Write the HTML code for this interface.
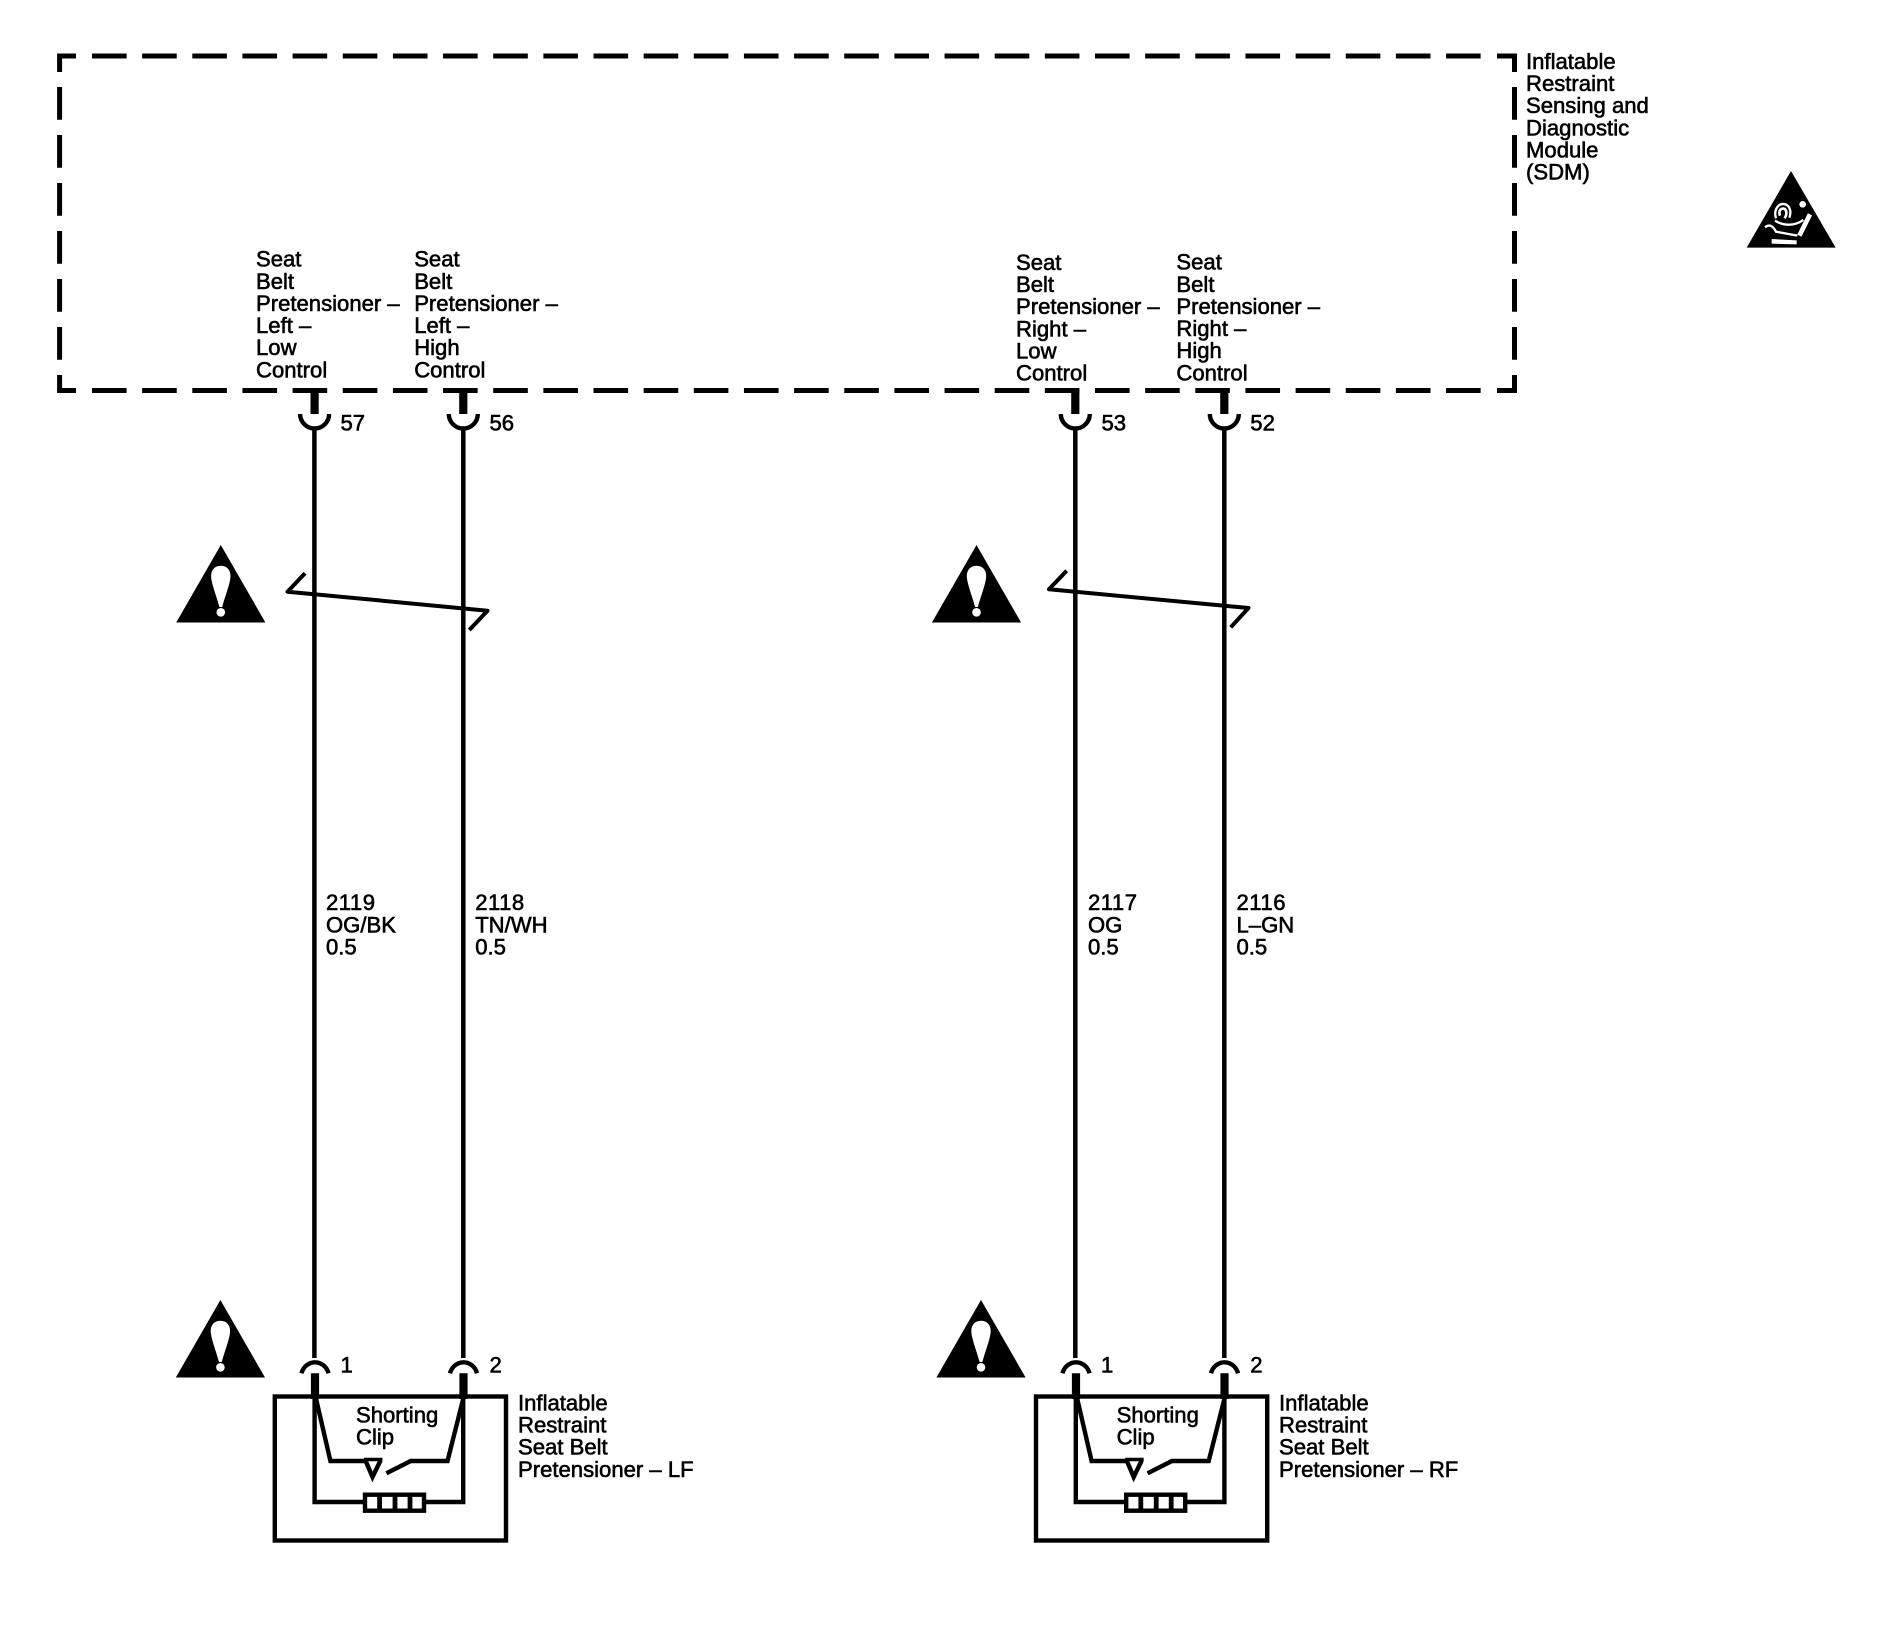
<!DOCTYPE html>
<html>
<head>
<meta charset="utf-8">
<title>Seat Belt Pretensioner Schematic</title>
<style>
html,body{margin:0;padding:0;background:#fff;}
svg{display:block;}
text{font-family:"Liberation Sans",Arial,sans-serif;font-size:22.1px;fill:#000;stroke:#000;stroke-width:.6px;}
text.n{letter-spacing:.5px;}
</style>
</head>
<body>
<svg xmlns="http://www.w3.org/2000/svg" width="1904" height="1632" viewBox="0 0 1904 1632">
<defs>
  <g id="warn">
    <path d="M0 0L44.6 77.5H-44.6Z" fill="#000"/>
    <path d="M0 20.7C6 20.7 9.7 25 9.7 31C9.7 38 4 52 1.4 62H-1.4C-4 52-9.7 38-9.7 31C-9.7 25-6 20.7 0 20.7Z" fill="#fff"/>
    <circle cx="0" cy="67.3" r="4.3" fill="#fff"/>
  </g>
  <g id="top" fill="none" stroke="#000">
    <path d="M0 390V414" stroke-width="8.2"/>
    <path d="M-14.5 414A14.5 14.5 0 0 0 14.5 414" stroke-width="4.4"/>
  </g>
  <g id="bot" fill="none" stroke="#000">
    <path d="M-13.5 1373.3A14 15 0 0 1 13.5 1373.3" stroke-width="4.4"/>
    <path d="M0 1373.3V1399" stroke-width="8.2"/>
  </g>
  <g id="comp" fill="none" stroke="#000" stroke-width="4.4">
    <rect x="274.8" y="1396.5" width="231.2" height="144"/>
    <path d="M314.6 1398V1502H365M424 1502H463.2V1398"/>
    <rect x="365" y="1494.7" width="59" height="16"/>
    <path d="M379.6 1494.7V1510.7M395 1494.7V1510.7M410 1494.7V1510.7" stroke-width="4.8"/>
    <path d="M315.7 1397.3L330.4 1461H366M386.4 1473.3L410.7 1461H447.5L463.6 1397.3"/>
    <path d="M365.5 1460.5L372.5 1477L380.5 1460.5"/>
    <path d="M364 1459.5H382.5" stroke-width="3.4"/>
  </g>
</defs>

<!-- SDM dashed box -->
<g fill="none" stroke="#000" stroke-width="5">
  <path d="M92 56H1481" stroke-dasharray="34.6 15.55"/>
  <path d="M92 390.5H1481" stroke-dasharray="34.6 15.55"/>
  <path d="M59.6 87V360" stroke-dasharray="32.7 15.3"/>
  <path d="M1514.5 87V360" stroke-dasharray="32.7 15.3"/>
  <path d="M76 56H59.6V72"/>
  <path d="M76 390.5H59.6V375"/>
  <path d="M1497 56H1514.5V72"/>
  <path d="M1497 390.5H1514.5V375"/>
</g>

<!-- Wires -->
<g stroke="#000" stroke-width="4.5" fill="none">
  <path d="M314.4 430V1358"/>
  <path d="M463.3 430V1358"/>
  <path d="M1075.3 430V1358"/>
  <path d="M1224.3 430V1358"/>
</g>

<!-- Top connectors -->
<use href="#top" transform="translate(314.6,0)"/>
<use href="#top" transform="translate(463.3,0)"/>
<use href="#top" transform="translate(1075.3,0)"/>
<use href="#top" transform="translate(1224.3,0)"/>

<!-- Bottom connectors -->
<use href="#bot" transform="translate(315,0)"/>
<use href="#bot" transform="translate(463.5,0)"/>
<use href="#bot" transform="translate(1076,0)"/>
<use href="#bot" transform="translate(1224.5,0)"/>

<!-- Components -->
<use href="#comp"/>
<use href="#comp" transform="translate(761.2,0)"/>

<!-- Twisted pair symbols -->
<g fill="none" stroke="#000" stroke-width="4" stroke-linejoin="round">
  <path d="M305 573.3L287.5 591.7L487.5 610.7L469.3 630"/>
  <path d="M1066.7 570.7L1049 589.3L1248.5 608L1230.7 627.3"/>
</g>

<!-- Warning triangles -->
<use href="#warn" transform="translate(220.8,545)"/>
<use href="#warn" transform="translate(976.5,545)"/>
<use href="#warn" transform="translate(220.4,1300)"/>
<use href="#warn" transform="translate(981,1300)"/>

<!-- SIR icon -->
<g transform="translate(1740,165) scale(.3333)">
  <path d="M153 18L287 248H20Z" fill="#000"/>
  <circle cx="188" cy="118" r="10" fill="#fff"/>
  <g fill="none" stroke="#fff" stroke-width="7">
    <path d="M108 160C100 135 115 115 132 117C150 120 155 140 148 158"/>
    <path d="M120 152C114 135 125 128 134 132C142 138 140 150 134 160" stroke-width="8"/>
    <path d="M105 167C125 180 160 187 190 165"/>
    <path d="M75 187C90 175 100 185 108 200L172 212"/>
    <path d="M210 148L178 212" stroke-width="14"/>
  </g>
  <path d="M95 222L170 226V238L95 236Z" fill="#fff"/>
</g>

<!-- SDM label -->
<text x="1526" y="69">Inflatable</text>
<text x="1526" y="91.2">Restraint</text>
<text x="1526" y="113.2">Sensing and</text>
<text x="1526" y="135.3">Diagnostic</text>
<text x="1526" y="157.3">Module</text>
<text x="1526" y="179.5">(SDM)</text>

<!-- Pin function labels -->
<text x="256" y="266.7">Seat</text>
<text x="256" y="288.8">Belt</text>
<text x="256" y="311">Pretensioner –</text>
<text x="256" y="333.2">Left –</text>
<text x="256" y="355.2">Low</text>
<text x="256" y="377.4">Control</text>

<text x="414.2" y="266.7">Seat</text>
<text x="414.2" y="288.8">Belt</text>
<text x="414.2" y="311">Pretensioner –</text>
<text x="414.2" y="333.2">Left –</text>
<text x="414.2" y="355.2">High</text>
<text x="414.2" y="377.4">Control</text>

<text x="1016" y="270">Seat</text>
<text x="1016" y="292">Belt</text>
<text x="1016" y="314.2">Pretensioner –</text>
<text x="1016" y="336.4">Right –</text>
<text x="1016" y="358.4">Low</text>
<text x="1016" y="380.6">Control</text>

<text x="1176.4" y="269.7">Seat</text>
<text x="1176.4" y="291.8">Belt</text>
<text x="1176.4" y="314">Pretensioner –</text>
<text x="1176.4" y="336.2">Right –</text>
<text x="1176.4" y="358.2">High</text>
<text x="1176.4" y="380.4">Control</text>

<!-- Pin numbers -->
<text x="340.5" y="430.6">57</text>
<text x="489.5" y="430.6">56</text>
<text x="1101.5" y="430.6">53</text>
<text x="1250.3" y="430.6">52</text>
<text x="340.5" y="1372.5">1</text>
<text x="489.5" y="1372.5">2</text>
<text x="1101" y="1372.5">1</text>
<text x="1250.3" y="1372.5">2</text>

<!-- Wire labels -->
<text class="n" x="326" y="910">2119</text>
<text x="326" y="932.3">OG/BK</text>
<text x="326" y="954.7">0.5</text>
<text class="n" x="475.2" y="910">2118</text>
<text x="475.2" y="932.3">TN/WH</text>
<text x="475.2" y="954.7">0.5</text>
<text class="n" x="1088" y="910">2117</text>
<text x="1088" y="932.3">OG</text>
<text x="1088" y="954.7">0.5</text>
<text class="n" x="1236.5" y="910">2116</text>
<text x="1236.5" y="932.3">L–GN</text>
<text x="1236.5" y="954.7">0.5</text>

<!-- Shorting clip labels -->
<text x="356" y="1422.5">Shorting</text>
<text x="356" y="1444.5">Clip</text>
<text x="1116.6" y="1422.5">Shorting</text>
<text x="1116.6" y="1444.5">Clip</text>

<!-- Component labels -->
<text x="518" y="1410.3">Inflatable</text>
<text x="518" y="1432.5">Restraint</text>
<text x="518" y="1454.6">Seat Belt</text>
<text x="518" y="1476.9">Pretensioner – LF</text>
<text x="1279" y="1410.3">Inflatable</text>
<text x="1279" y="1432.5">Restraint</text>
<text x="1279" y="1454.6">Seat Belt</text>
<text x="1279" y="1476.9">Pretensioner – RF</text>
</svg>
</body>
</html>
